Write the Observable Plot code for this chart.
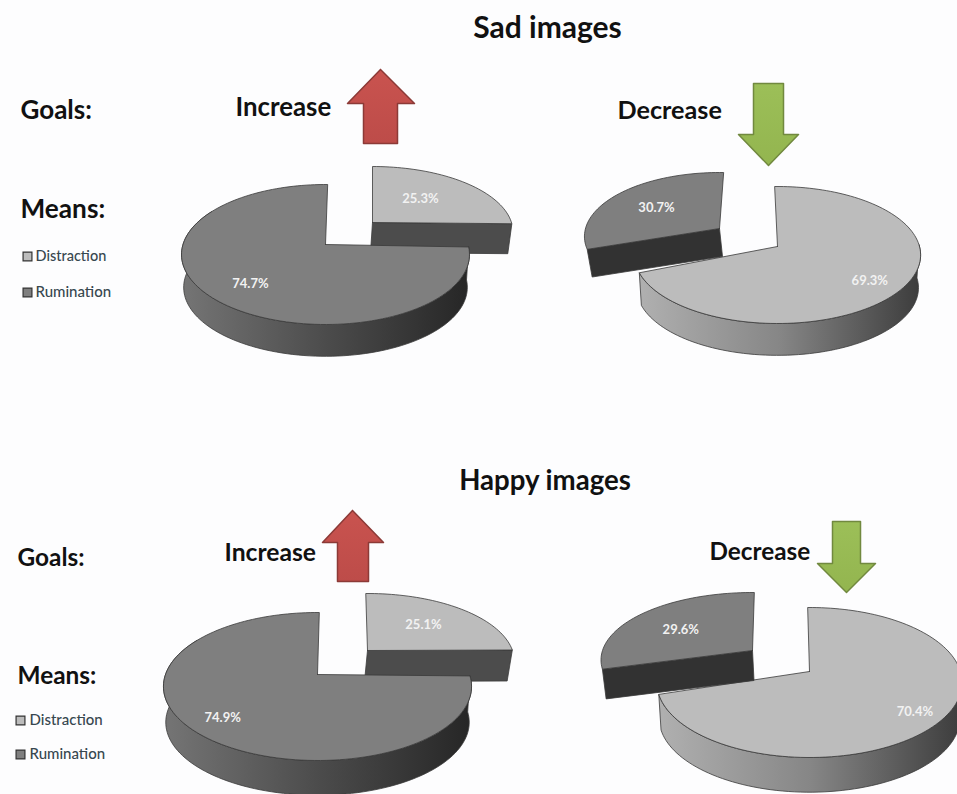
<!DOCTYPE html>
<html>
<head>
<meta charset="utf-8">
<script src="https://cdn.jsdelivr.net/npm/d3@7"></script>
<script src="https://cdn.jsdelivr.net/npm/@observablehq/plot@0.6"></script>
<style>
  html, body { margin: 0; padding: 0; background: #fdfdfe; }
  svg { display: block; }
</style>
</head>
<body>
<div id="chart"></div>
<script>
// ---- values (percent) ----
const goals = ["Increase", "Decrease"];
const means = ["Distraction", "Rumination"];
const sadDistraction = [25.3, 69.3];
const sadRumination = [74.7, 30.7];
const happyDistraction = [25.1, 70.4];
const happyRumination = [74.9, 29.6];

// ---- layout: where each 3D pie sits and how it is foreshortened ----
const pieLayout = [
  {panel: "Sad", goal: 0, d: sadDistraction[0], r: sadRumination[0],
   main: {ax: 325, ay: 244, R: 142.5, up: 60, down: 80, depth: 33, bx: 0, rot: 1, lab: 0.72, labShift: -4},
   cut:  {ax: 372, ay: 222, R: 139, up: 56, down: 75, depth: 30, bx: -2, rot: 0, lab: 0.54, labShift: -3}},
  {panel: "Sad", goal: 1, d: sadDistraction[1], r: sadRumination[1],
   main: {ax: 777, ay: 246, R: 142, up: 60, down: 77, depth: 33, bx: 0, rot: -1.3, lab: 0.78, labShift: 5},
   cut:  {ax: 719, ay: 228, R: 134, up: 56, down: 72, depth: 28, bx: 3, rot: 2, lab: 0.60, labShift: -1.5}},
  {panel: "Happy", goal: 0, d: happyDistraction[0], r: happyRumination[0],
   main: {ax: 317, ay: 674, R: 152, up: 62, down: 86, depth: 36, bx: 0, rot: 0.8, lab: 0.79, labShift: 0},
   cut:  {ax: 367, ay: 650, R: 145, up: 57, down: 79, depth: 31, bx: -3, rot: -0.8, lab: 0.59, labShift: 0}},
  {panel: "Happy", goal: 1, d: happyDistraction[1], r: happyRumination[1],
   main: {ax: 809, ay: 671, R: 151, up: 64, down: 86, depth: 36, bx: 0, rot: -0.8, lab: 0.82, labShift: 2},
   cut:  {ax: 752, ay: 650, R: 150, up: 58, down: 77, depth: 30, bx: 1.5, rot: 0.8, lab: 0.60, labShift: -4}}
];
const arrowLayout = [
  {tip: [380, 69], headY: 103, end: 143, headL: 347, headR: 414, shaftL: 363, shaftR: 397, fill: "url(#red)", stroke: "#8c3a37"},
  {tip: [768, 165], headY: 134, end: 83, headL: 738, headR: 798, shaftL: 753, shaftR: 783, fill: "url(#green)", stroke: "#71893f"},
  {tip: [352, 510], headY: 542, end: 581, headL: 322, headR: 383, shaftL: 337, shaftR: 368, fill: "url(#red)", stroke: "#8c3a37"},
  {tip: [846, 592], headY: 563, end: 521, headL: 817, headR: 875, shaftL: 832, shaftR: 860, fill: "url(#green)", stroke: "#71893f"}
];
const headings = [
  {t: "Sad images", x: 547, y: 28, s: 30, a: "middle"},
  {t: "Happy images", x: 544.5, y: 481, s: 27.6, a: "middle"},
  {t: "Goals:", x: 20, y: 110, s: 26, a: "start"},
  {t: "Means:", x: 20, y: 209, s: 26.2, a: "start"},
  {t: "Goals:", x: 17, y: 558, s: 24.4, a: "start"},
  {t: "Means:", x: 17, y: 676, s: 24.4, a: "start"},
  {t: goals[0], x: 235, y: 107, s: 25.8, a: "start"},
  {t: goals[1], x: 617, y: 110, s: 25.2, a: "start"},
  {t: goals[0], x: 224, y: 553, s: 24.7, a: "start"},
  {t: goals[1], x: 709, y: 552, s: 24.3, a: "start"}
];
const legendRows = [
  {name: means[0], x: 27, y: 256, fill: "#bcbcbc", tx: 35, s: 14.5},
  {name: means[1], x: 27, y: 292, fill: "#7f7f7f", tx: 35, s: 15},
  {name: means[0], x: 20, y: 720, fill: "#bcbcbc", tx: 29, s: 15},
  {name: means[1], x: 20, y: 754, fill: "#7f7f7f", tx: 29, s: 15}
];

const FONT = "Lato, 'Open Sans', sans-serif";
const LIGHT = "#bcbcbc", DARK = "#7f7f7f", EDGE = "#3a3a3a";

// projective map of a flat disc: apex stays at (ax, ay), near side is larger
function projector(p, bottom) {
  const H = 2 * p.up * p.down / (p.up + p.down);
  const k = (p.down - p.up) / (p.down + p.up);
  const s = bottom ? 0.985 : 1;
  const ox = p.ax + (bottom ? p.bx : 0), oy = p.ay + (bottom ? p.depth : 0);
  return (deg, r = 1) => {
    const a = (deg + p.rot) * Math.PI / 180;
    const u = r * Math.sin(a), v = r * Math.cos(a), w = 1 + k * v;
    return [ox + s * p.R * u / w, oy - s * H * v / w];
  };
}
function arc(pr, a0, a1) {
  const out = [], n = Math.max(2, Math.ceil(Math.abs(a1 - a0) / 2));
  for (let i = 0; i <= n; i++) out.push(pr(a0 + (a1 - a0) * i / n));
  return out;
}
const poly = (pts, o) => Plot.line(pts, {x: d => d[0], y: d => d[1], curve: "linear", ...o});

function sliceMarks(p, a0, a1, fill, wallFill, cutFill, isExploded, cutAngle) {
  const top = projector(p, false), bot = projector(p, true);
  const apex = top(0, 0), apexB = bot(0, 0);
  const ms = [];
  if (isExploded) {
    const e = top(cutAngle), eB = bot(cutAngle);
    ms.push(poly([apex, e, eB, apexB, apex], {fill: cutFill, stroke: EDGE, strokeWidth: 0.8}));
  } else {
    const w0 = Math.max(a0, 90), w1 = Math.min(a1, 300);
    const wall = [...arc(top, w0, w1), ...arc(bot, w0, w1).reverse()];
    wall.push(wall[0]);
    ms.push(poly(wall, {fill: wallFill, stroke: EDGE, strokeWidth: 0.8}));
  }
  const face = [apex, ...arc(top, a0, a1), apex];
  ms.push(poly(face, {fill, stroke: EDGE, strokeWidth: 0.8}));
  return ms;
}
function percentLabel(p, a0, a1, value) {
  const [x, y] = projector(p, false)((a0 + a1) / 2 + p.labShift, p.lab);
  return Plot.text([{x, y, t: value.toFixed(1) + "%"}], {
    x: "x", y: "y", text: "t", fill: "#f2f2f2", fontSize: 13, fontWeight: 700, fontFamily: FONT
  });
}

const marks = [];
marks.push(() => {
  const defs = d3.create("svg:defs");
  const grad = (id, stops, y2 = 0) => {
    const g = defs.append("linearGradient").attr("id", id).attr("x1", 0).attr("x2", y2 ? 0 : 1).attr("y1", 0).attr("y2", y2 ? 1 : 0);
    stops.forEach(([o, c]) => g.append("stop").attr("offset", o).attr("stop-color", c));
  };
  grad("wallDark", [[0, "#757575"], [0.5, "#4c4c4c"], [1, "#262626"]]);
  grad("wallLight", [[0, "#b0b0b0"], [0.5, "#868686"], [1, "#3c3c3c"]]);
  grad("red", [[0, "#c9534f"], [1, "#bd4c49"]], 1);
  grad("green", [[0, "#9cbf58"], [1, "#93b54f"]], 1);
  return defs.node();
});

pieLayout.forEach(c => {
  if (c.goal === 0) {
    // distraction slice pulled away, rumination is the main body
    const cutEnd = c.d * 3.6;
    marks.push(...sliceMarks(c.cut, 0, cutEnd, LIGHT, null, "#4c4c4c", true, cutEnd));
    marks.push(...sliceMarks(c.main, cutEnd, 360, DARK, "url(#wallDark)", null, false));
    marks.push(percentLabel(c.cut, 0, cutEnd, c.d));
    marks.push(percentLabel(c.main, cutEnd, 360, c.r));
  } else {
    // rumination slice pulled away, distraction is the main body
    const split = c.d * 3.6;
    marks.push(...sliceMarks(c.main, 0, split, LIGHT, "url(#wallLight)", null, false));
    marks.push(...sliceMarks(c.cut, split, 360, DARK, null, "#323232", true, split));
    marks.push(percentLabel(c.main, 0, split, c.d));
    marks.push(percentLabel(c.cut, split, 360, c.r));
  }
});

arrowLayout.forEach(a => {
  const pts = [a.tip, [a.headR, a.headY], [a.shaftR, a.headY], [a.shaftR, a.end], [a.shaftL, a.end], [a.shaftL, a.headY], [a.headL, a.headY], a.tip];
  marks.push(poly(pts, {fill: a.fill, stroke: a.stroke, strokeWidth: 1.5}));
});

headings.forEach(h => marks.push(Plot.text([h], {
  x: "x", y: "y", text: "t", fontSize: h.s, fontWeight: 700, fontFamily: FONT, textAnchor: h.a, fill: "#111"
})));

marks.push(Plot.dot(legendRows, {
  x: "x", y: "y", symbol: "square", r: 5, fill: d => d.fill, stroke: "#333", strokeWidth: 1.2
}));
legendRows.forEach(l => marks.push(Plot.text([l], {
  x: "tx", y: "y", text: "name", textAnchor: "start", fontSize: l.s, fontFamily: FONT, fill: "#37474f", fontWeight: 500
})));

const chart = Plot.plot({
  width: 957, height: 794,
  margin: 0,
  style: {background: "transparent"},
  x: {domain: [0, 957], range: [0, 957], axis: null},
  y: {domain: [0, 794], range: [0, 794], axis: null},
  color: {type: "identity"},
  marks
});
document.getElementById("chart").append(chart);
</script>
</body>
</html>
